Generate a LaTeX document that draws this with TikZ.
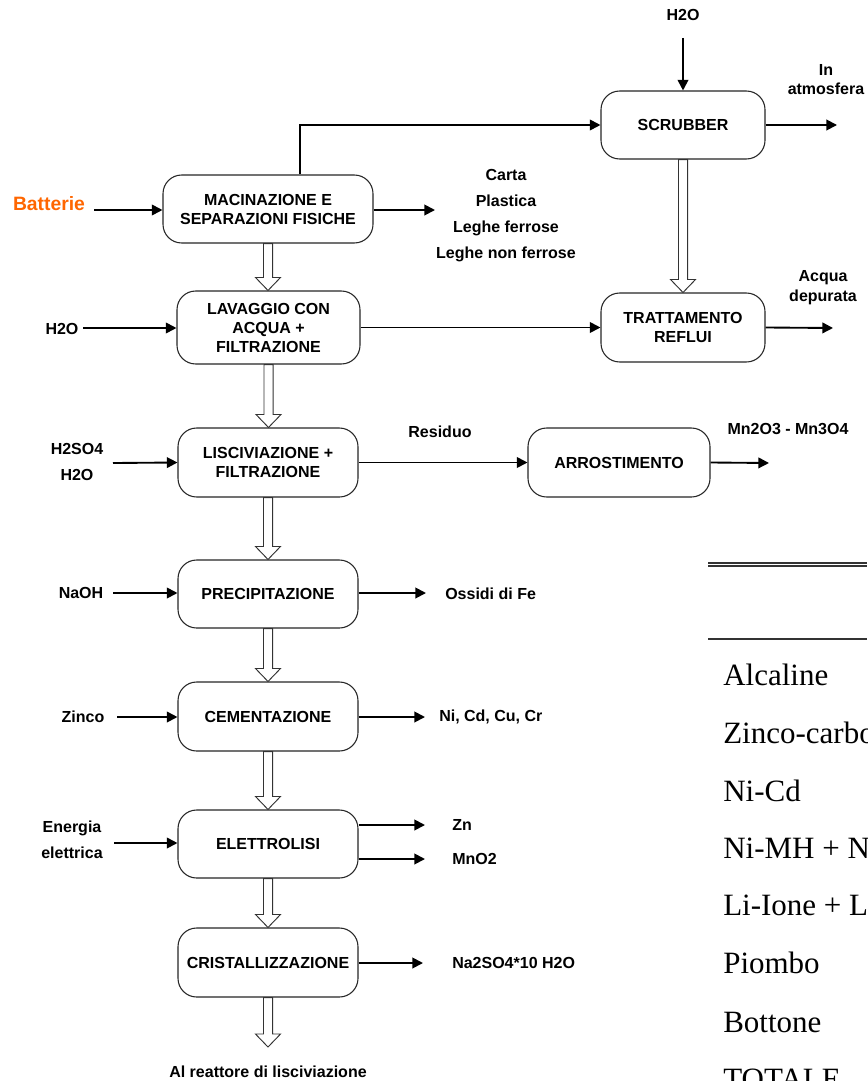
\documentclass[tikz,border=0pt]{standalone}
\usepackage{fontspec}
\setmainfont{Liberation Sans}
\newfontfamily\tmsfont{Liberation Serif}
\usetikzlibrary{arrows.meta,calc}
\definecolor{battorange}{RGB}{255,102,0}
\tikzset{
  box/.style={draw=black!85, line width=0.8pt, rounded corners=14pt, fill=white,
    align=center, inner sep=0pt, font=\bfseries\fontsize{12}{14.25}\selectfont},
  lbl/.style={inner sep=0pt, align=center, font=\bfseries\fontsize{12}{14.25}\selectfont},
  flow/.style={line width=1.4pt, -{Triangle[length=8pt,width=8pt]}},
  hollow/.style={draw=black!80, line width=0.7pt, fill=white,
    to path={let \p1=(\tikztostart), \p2=(\tikztotarget) in
      (\x1-3.4pt,\y1) -- (\x1-3.4pt,\y2+9.75pt) -- (\x1-9.4pt,\y2+9.75pt) -- (\x1,\y2)
      -- (\x1+9.4pt,\y2+9.75pt) -- (\x1+3.4pt,\y2+9.75pt) -- (\x1+3.4pt,\y1) -- cycle}},
  tabtxt/.style={font=\tmsfont\fontsize{23.25}{28}\selectfont, anchor=base west, inner sep=0pt},
  tabline/.style={line width=0.8pt, black!80},
}
\begin{document}
\begin{tikzpicture}[x=0.75pt,y=-0.75pt]
\clip (0,0) rectangle (867,1081);

% ---------- process boxes ----------
\node[box, minimum width=157.5pt, minimum height=51pt] (mac) at (268,209) {MACINAZIONE E\\SEPARAZIONI FISICHE};
\node[box, minimum width=137.25pt, minimum height=54.75pt] (lav) at (268.5,327.5) {LAVAGGIO CON\\ACQUA +\\FILTRAZIONE};
\node[box, minimum width=123pt, minimum height=51pt] (scr) at (683,125) {SCRUBBER};
\node[box, minimum width=123pt, minimum height=51.75pt] (trat) at (683,327.5) {TRATTAMENTO\\REFLUI};
\node[box, minimum width=135pt, minimum height=51.75pt] (lis) at (268,462.5) {LISCIVIAZIONE +\\FILTRAZIONE};
\node[box, minimum width=136.5pt, minimum height=51.75pt] (arr) at (619,462.5) {ARROSTIMENTO};
\node[box, minimum width=135pt, minimum height=51pt] (prec) at (268,594) {PRECIPITAZIONE};
\node[box, minimum width=135pt, minimum height=51.75pt] (cem) at (268,716.5) {CEMENTAZIONE};
\node[box, minimum width=135pt, minimum height=51pt] (ele) at (268,844) {ELETTROLISI};
\node[box, minimum width=135pt, minimum height=51.75pt] (cri) at (268,962.5) {CRISTALLIZZAZIONE};

% ---------- labels ----------
\node[lbl, text=battorange, font=\bfseries\fontsize{14.5}{17}\selectfont] (bat) at (49,204) {Batterie};
\node[lbl, font=\bfseries\fontsize{12}{19.5}\selectfont] (scarti) at (506,216) {Carta\\Plastica\\Leghe ferrose\\Leghe non ferrose};
\node[lbl] (h2otop) at (683,15) {H2O};
\node[lbl] (atm) at (826,79.5) {In\\atmosfera};
\node[lbl] (h2olav) at (62,329) {H2O};
\node[lbl, font=\bfseries\fontsize{12}{15}\selectfont] (acqua) at (823,288) {Acqua\\depurata};
\node[lbl, font=\bfseries\fontsize{12}{19.5}\selectfont] (acidi) at (77,462) {H2SO4\\H2O};
\node[lbl] (residuo) at (440,432) {Residuo};
\node[lbl] (mnox) at (788,429) {Mn2O3 - Mn3O4};
\node[lbl] (naoh) at (81,593) {NaOH};
\node[lbl, anchor=west] (ossidi) at (445,594) {Ossidi di Fe};
\node[lbl] (zinco) at (83,717) {Zinco};
\node[lbl, anchor=west] (metalli) at (439,717) {Ni, Cd, Cu, Cr};
\node[lbl, font=\bfseries\fontsize{12}{19.5}\selectfont] (energia) at (72,840) {Energia\\elettrica};
\node[lbl, anchor=west] (zn) at (452,825) {Zn};
\node[lbl, anchor=west] (mno2) at (452,859) {MnO2};
\node[lbl, anchor=west] (solfato) at (452,963) {Na2SO4*10 H2O};
\node[lbl] (reattore) at (268,1072) {Al reattore di lisciviazione};

% ---------- free ends ----------
\coordinate (batS) at (94,210);
\coordinate (macO) at (435,210);
\coordinate (topx) at (300,0);
\coordinate (h2otopS) at (683,38);
\coordinate (scrO) at (837,125);
\coordinate (h2olavS) at (83,328);
\coordinate (tratO) at (833,328);
\coordinate (acidiS) at (113,463);
\coordinate (arrO) at (769,463);
\coordinate (naohS) at (113,593);
\coordinate (precO) at (426,593);
\coordinate (zincoS) at (117,717);
\coordinate (cemO) at (425,717);
\coordinate (energiaS) at (114,843);
\coordinate (znO) at (425,825);
\coordinate (mno2O) at (425,859);
\coordinate (criO) at (423,963);
\coordinate (criEnd) at (268,1047);

% ---------- thin flows ----------
\draw[flow] (batS) -- (batS -| mac.west);
\draw[flow] (macO -| mac.east) -- (macO);
\draw[flow] (mac.north -| topx) |- (scr.west);
\draw[flow] (h2otopS) -- (scr.north);
\draw[flow] (scr.east) -- (scrO);
\draw[flow] (h2olavS) -- (h2olavS -| lav.west);
\draw[flow] (lav.east) -- (trat.west);
\draw[flow] (trat.east) -- (tratO);
\draw[flow] (acidiS) -- (lis.west);
\draw[flow] (lis.east) -- (arr.west);
\draw[flow] (arr.east) -- (arrO);
\draw[flow] (naohS) -- (naohS -| prec.west);
\draw[flow] (precO -| prec.east) -- (precO);
\draw[flow] (zincoS) -- (zincoS -| cem.west);
\draw[flow] (cemO -| cem.east) -- (cemO);
\draw[flow] (energiaS) -- (energiaS -| ele.west);
\draw[flow] (znO -| ele.east) -- (znO);
\draw[flow] (mno2O -| ele.east) -- (mno2O);
\draw[flow] (criO -| cri.east) -- (criO);

% ---------- hollow main-flow arrows ----------
\draw[hollow] (mac.south) to (lav.north);
\draw[hollow] (lav.south) to (lis.north);
\draw[hollow] (lis.south) to (prec.north);
\draw[hollow] (prec.south) to (cem.north);
\draw[hollow] (cem.south) to (ele.north);
\draw[hollow] (ele.south) to (cri.north);
\draw[hollow] (cri.south) to (criEnd);
\draw[hollow] (scr.south) to (trat.north);

% ---------- table fragment ----------
\coordinate (tl1) at (708,563);
\coordinate (tl2) at (708,566);
\coordinate (tl3) at (708,639);
\draw[tabline] (tl1) -- (tl1 -| 867,0);
\draw[tabline] (tl2) -- (tl2 -| 867,0);
\draw[tabline, line width=1.6pt] (tl3) -- (tl3 -| 867,0);
\node[tabtxt] (r1) at (723,685) {Alcaline};
\node[tabtxt] (r2) at (723,743) {Zinco-carbone};
\node[tabtxt] (r3) at (723,801) {Ni-Cd};
\node[tabtxt] (r4) at (723,858) {Ni-MH + N};
\node[tabtxt] (r5) at (723,915) {Li-Ione + L};
\node[tabtxt] (r6) at (723,973) {Piombo};
\node[tabtxt] (r7) at (723,1032) {Bottone};
\node[tabtxt] (r8) at (723,1089) {TOTALE};
\end{tikzpicture}
\end{document}
